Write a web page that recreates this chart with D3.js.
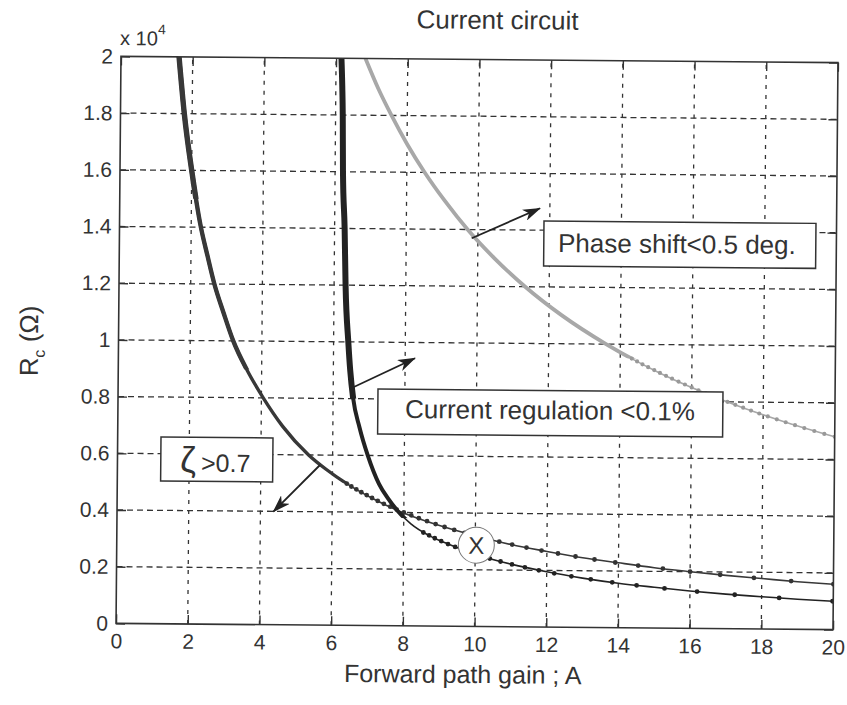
<!DOCTYPE html>
<html>
<head>
<meta charset="utf-8">
<script src="https://cdn.jsdelivr.net/npm/d3@7"></script>
<style>
  body { margin: 0; background: #fff; }
  text { font-family: "Liberation Sans", Arial, sans-serif; fill: #333; }
</style>
</head>
<body>
<svg id="chart" width="847" height="705"></svg>
<script>
// Rc in units of 10^4 ohm vs forward path gain A
var zeta = [[1.62,2.0],[1.78,1.8],[2.0,1.6],[2.27,1.4],[2.46,1.3],[2.66,1.2],[2.92,1.1],[3.2,1.0],
  [3.58,0.9],[4.05,0.8],[4.6,0.7],[5.33,0.6],[5.82,0.55],[6.4,0.5],[7.1,0.45],[7.96,0.4],[9,0.355],
  [10,0.32],[11,0.29],[12,0.267],[13,0.246],[14,0.229],[15,0.213],[16,0.2],[17,0.188],[18,0.178],
  [19,0.168],[20,0.16]];
var zetaDots = [[6.4,0.5],[6.53,0.49],[6.67,0.48],[6.81,0.47],[6.96,0.46],[7.11,0.45],[7.27,0.44],
  [7.44,0.43],[7.62,0.42],[7.8,0.41],[8.0,0.4],[8.21,0.39],[8.42,0.38],[8.65,0.37],[8.89,0.36],
  [9.14,0.35],[9.41,0.34],[9.7,0.33],[10.0,0.32],[10.32,0.31],[10.67,0.3],[11.03,0.29],[11.43,0.28],
  [11.85,0.27],[12.31,0.26],[12.8,0.25],[13.33,0.24],[13.91,0.23],[14.55,0.22],[15.24,0.21],
  [16.0,0.2],[16.84,0.19],[17.78,0.18],[18.82,0.17],[20.0,0.16]];

var regulation = [[6.15,2.0],[6.18,1.9],[6.2,1.8],[6.22,1.6],[6.28,1.4],[6.32,1.2],[6.41,1.0],
  [6.47,0.9],[6.56,0.8],[6.74,0.7],[6.98,0.6],[7.3,0.5],[7.55,0.45],[7.83,0.405],[8.2,0.36],
  [8.7,0.32],[9.24,0.29],[10,0.255],[11,0.221],[12,0.195],[13,0.174],[14,0.157],[15,0.144],
  [16,0.132],[17,0.122],[18,0.114],[19,0.106],[20,0.1]];
var regulationDots = [[8.55,0.33],[8.71,0.32],[8.87,0.31],[9.05,0.3],[9.24,0.29],[9.44,0.28],
  [9.65,0.27],[9.89,0.26],[10.14,0.25],[10.41,0.24],[10.71,0.23],[11.03,0.22],[11.39,0.21],
  [11.78,0.2],[12.21,0.19],[12.69,0.18],[13.23,0.17],[13.83,0.16],[14.51,0.15],[15.29,0.14],
  [16.2,0.13],[17.25,0.12],[18.49,0.11],[19.98,0.1]];

var phase = [[6.82,2.0],[7.2,1.89],[7.56,1.8],[8.0,1.7],[8.5,1.6],[9.07,1.5],[9.71,1.4],[10.46,1.3],
  [11.33,1.2],[12.36,1.1],[13.6,1.0],[15.1,0.9],[17,0.8],[18.5,0.735],[20,0.68]];
var phaseDots = [[14.32,0.95],[14.47,0.94],[14.62,0.93],[14.78,0.92],[14.95,0.91],[15.11,0.9],
  [15.28,0.89],[15.45,0.88],[15.63,0.87],[15.81,0.86],[16.0,0.85],[16.19,0.84],[16.39,0.83],
  [16.59,0.82],[16.79,0.81],[17.0,0.8],[17.22,0.79],[17.44,0.78],[17.66,0.77],[17.89,0.76],
  [18.13,0.75],[18.38,0.74],[18.63,0.73],[18.89,0.72],[19.15,0.71],[19.43,0.7],[19.71,0.69],[20.0,0.68]];

var xTicks = [0,2,4,6,8,10,12,14,16,18,20];
var yTicks = [0,0.2,0.4,0.6,0.8,1,1.2,1.4,1.6,1.8,2];

// the scanned figure is tilted a little
var ROT = 0.5, CX = 477, CY = 343;
function unrot(p) {
  var a = -ROT * Math.PI / 180, dx = p[0] - CX, dy = p[1] - CY;
  return [CX + dx * Math.cos(a) - dy * Math.sin(a), CY + dx * Math.sin(a) + dy * Math.cos(a)];
}

var svg = d3.select("#chart");
var defs = svg.append("defs");
var g = svg.append("g").attr("transform", "rotate(" + ROT + "," + CX + "," + CY + ")");

var x = d3.scaleLinear().domain([0, 20]).range([118.5, 835.5]);
var y = d3.scaleLinear().domain([0, 2]).range([626.5, 59.5]);

defs.append("clipPath").attr("id", "plot").append("rect")
  .attr("x", x(0)).attr("y", y(2)).attr("width", x(20) - x(0)).attr("height", y(0) - y(2));

// grid
g.append("g").selectAll("line").data(xTicks.slice(1, -1)).join("line")
  .attr("x1", d => x(d)).attr("x2", d => x(d)).attr("y1", y(0)).attr("y2", y(2))
  .attr("stroke", "#333").attr("stroke-width", 1.3).attr("stroke-dasharray", "4,6");
g.append("g").selectAll("line").data(yTicks.slice(1, -1)).join("line")
  .attr("y1", d => y(d)).attr("y2", d => y(d)).attr("x1", x(0)).attr("x2", x(20))
  .attr("stroke", "#333").attr("stroke-width", 1.3).attr("stroke-dasharray", "6,4");

// curves (thicker where the markers crowd together)
var line = d3.line().x(d => x(d[0])).y(d => y(d[1])).curve(d3.curveMonotoneX);
var series = [
  {name: "phase", pts: phase, dots: phaseDots, color: "#a8a8a8", dot: "#999", r: 2.1, base: 1.6, bands: [[0.95, 3.8]]},
  {name: "zeta", pts: zeta, dots: zetaDots, color: "#383838", dot: "#333", r: 2.4, base: 1.6, bands: [[0.5, 3.4], [0.9, 4.4], [1.5, 5.4]]},
  {name: "reg", pts: regulation, dots: regulationDots, color: "#222", dot: "#222", r: 2.4, base: 1.6, bands: [[0.38, 4], [0.8, 6]]}
];
var curves = g.append("g").attr("clip-path", "url(#plot)");
series.forEach(function(s) {
  curves.append("path").datum(s.pts).attr("d", line)
    .attr("fill", "none").attr("stroke", s.color).attr("stroke-width", s.base);
  s.bands.forEach(function(b, i) {
    var id = s.name + "-band" + i;
    defs.append("clipPath").attr("id", id).append("rect")
      .attr("x", x(0)).attr("y", y(2)).attr("width", x(20) - x(0)).attr("height", y(b[0]) - y(2));
    curves.append("g").attr("clip-path", "url(#" + id + ")")
      .append("path").datum(s.pts).attr("d", line)
      .attr("fill", "none").attr("stroke", s.color).attr("stroke-width", b[1]);
  });
  curves.append("g").selectAll("circle").data(s.dots).join("circle")
    .attr("cx", d => x(d[0])).attr("cy", d => y(d[1])).attr("r", s.r).attr("fill", s.dot);
});

// axes, ticks inside on all four sides
function styleAxis(sel) {
  sel.select(".domain").remove();
  sel.selectAll(".tick line").attr("stroke", "#333").attr("stroke-width", 1.4);
  sel.selectAll(".tick text").attr("font-size", 21).attr("fill", "#333")
    .attr("font-family", "Liberation Sans, Arial, sans-serif");
}
g.append("g").attr("transform", "translate(0," + y(0) + ")")
  .call(d3.axisBottom(x).tickValues(xTicks).tickSize(-9).tickPadding(10)).call(styleAxis);
g.append("g").attr("transform", "translate(0," + y(2) + ")")
  .call(d3.axisTop(x).tickValues(xTicks).tickSize(-9).tickFormat("")).call(styleAxis);
g.append("g").attr("transform", "translate(" + x(0) + ",0)")
  .call(d3.axisLeft(y).tickValues(yTicks).tickSize(-9).tickPadding(8).tickFormat(d => +d.toFixed(1)))
  .call(styleAxis);
g.append("g").attr("transform", "translate(" + x(20) + ",0)")
  .call(d3.axisRight(y).tickValues(yTicks).tickSize(-9).tickFormat("")).call(styleAxis);
g.append("rect").attr("x", x(0)).attr("y", y(2)).attr("width", x(20) - x(0)).attr("height", y(0) - y(2))
  .attr("fill", "none").attr("stroke", "#333").attr("stroke-width", 1.6);

// texts
var p;
p = unrot([497.5, 29]);
g.append("text").attr("x", p[0]).attr("y", p[1]).attr("text-anchor", "middle")
  .attr("font-size", 26).text("Current circuit");
p = unrot([120, 45]);
var exp = g.append("text").attr("x", p[0]).attr("y", p[1]).attr("font-size", 20);
exp.append("tspan").text("x 10");
exp.append("tspan").attr("font-size", 14).attr("dy", -11).text("4");
p = unrot([462.7, 683]);
g.append("text").attr("x", p[0]).attr("y", p[1]).attr("text-anchor", "middle")
  .attr("font-size", 25).text("Forward path gain ; A");
p = unrot([38, 341]);
var yl = g.append("text").attr("transform", "translate(" + p[0] + "," + p[1] + ") rotate(-90)")
  .attr("text-anchor", "middle").attr("font-size", 26);
yl.append("tspan").text("R");
yl.append("tspan").attr("font-size", 16).attr("dy", 7).text("c");
yl.append("tspan").attr("dy", -7).text(" (\u03A9)");

// annotations
defs.append("marker").attr("id", "head").attr("markerUnits", "userSpaceOnUse")
  .attr("viewBox", "0 0 18 12").attr("refX", 17).attr("refY", 6)
  .attr("markerWidth", 18).attr("markerHeight", 12).attr("orient", "auto")
  .append("path").attr("d", "M0,0L18,6L0,12L5,6z").attr("fill", "#222");

var arrows = [
  [[471.7, 238.3], [540, 208.3]],
  [[353.3, 387.3], [415, 358.3]],
  [[320, 465], [273.3, 511.7]]
];
arrows.forEach(function(a) {
  var s = unrot(a[0]), e = unrot(a[1]);
  g.append("line").attr("x1", s[0]).attr("y1", s[1]).attr("x2", e[0]).attr("y2", e[1])
    .attr("stroke", "#222").attr("stroke-width", 1.8).attr("marker-end", "url(#head)");
});

function box(x0, y0, w, h) {
  var q = unrot([x0, y0]);
  g.append("rect").attr("x", q[0]).attr("y", q[1]).attr("width", w).attr("height", h)
    .attr("fill", "#fff").attr("stroke", "#333").attr("stroke-width", 1.5);
}
box(544, 221, 272, 45);
p = unrot([558, 252]);
g.append("text").attr("x", p[0]).attr("y", p[1]).attr("font-size", 26).text("Phase shift<0.5 deg.");

box(378, 389, 345, 45);
p = unrot([405, 418]);
g.append("text").attr("x", p[0]).attr("y", p[1]).attr("font-size", 26).text("Current regulation <0.1%");

box(161, 437, 112, 44);
p = unrot([180, 472]);
g.append("text").attr("x", p[0]).attr("y", p[1]).attr("font-size", 36).text("\u03B6");
p = unrot([201, 471.7]);
g.append("text").attr("x", p[0]).attr("y", p[1]).attr("font-size", 25).text(">0.7");

// operating point
g.append("circle").attr("cx", x(10.03)).attr("cy", y(0.287)).attr("r", 18)
  .attr("fill", "#fff").attr("stroke", "#777").attr("stroke-width", 1);
g.append("text").attr("x", x(10.03)).attr("y", y(0.287)).attr("dy", "0.36em")
  .attr("text-anchor", "middle").attr("font-size", 24).text("X");
</script>
</body>
</html>
